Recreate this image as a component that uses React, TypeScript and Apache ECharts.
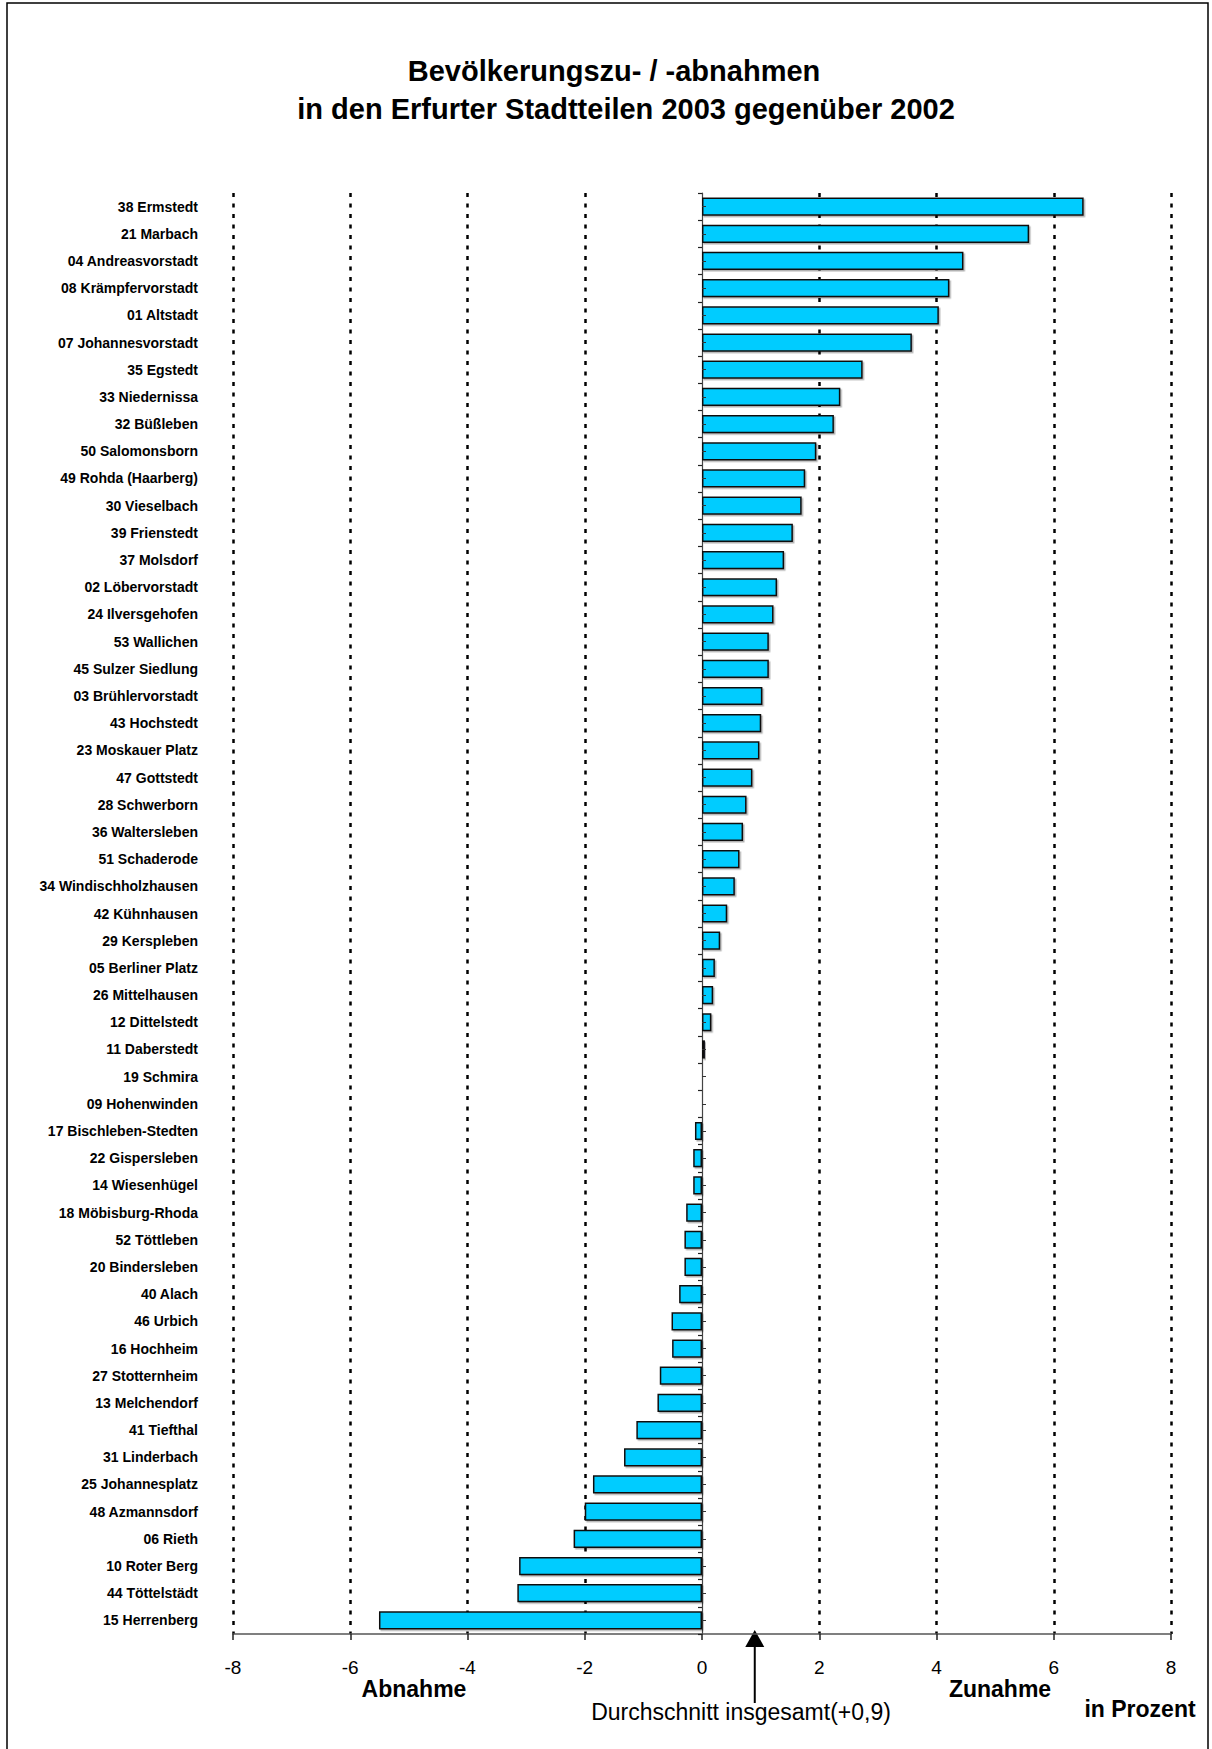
import React, { useEffect, useRef } from "react";
import * as echarts from "echarts";

const districts = [
  "38 Ermstedt", "21 Marbach", "04 Andreasvorstadt", "08 Krämpfervorstadt", "01 Altstadt",
  "07 Johannesvorstadt", "35 Egstedt", "33 Niedernissa", "32 Büßleben", "50 Salomonsborn",
  "49 Rohda (Haarberg)", "30 Vieselbach", "39 Frienstedt", "37 Molsdorf", "02 Löbervorstadt",
  "24 Ilversgehofen", "53 Wallichen", "45 Sulzer Siedlung", "03 Brühlervorstadt", "43 Hochstedt",
  "23 Moskauer Platz", "47 Gottstedt", "28 Schwerborn", "36 Waltersleben", "51 Schaderode",
  "34 Windischholzhausen", "42 Kühnhausen", "29 Kerspleben", "05 Berliner Platz", "26 Mittelhausen",
  "12 Dittelstedt", "11 Daberstedt", "19 Schmira", "09 Hohenwinden", "17 Bischleben-Stedten",
  "22 Gispersleben", "14 Wiesenhügel", "18 Möbisburg-Rhoda", "52 Töttleben", "20 Bindersleben",
  "40 Alach", "46 Urbich", "16 Hochheim", "27 Stotternheim", "13 Melchendorf",
  "41 Tiefthal", "31 Linderbach", "25 Johannesplatz", "48 Azmannsdorf", "06 Rieth",
  "10 Roter Berg", "44 Töttelstädt", "15 Herrenberg",
];

const changes = [
  6.51, 5.58, 4.46, 4.22, 4.04,
  3.58, 2.74, 2.36, 2.25, 1.95,
  1.76, 1.7, 1.55, 1.4, 1.28,
  1.22, 1.14, 1.14, 1.03, 1.01,
  0.98, 0.86, 0.76, 0.7, 0.64,
  0.56, 0.43, 0.31, 0.22, 0.19,
  0.16, 0.05, 0, 0, -0.12,
  -0.15, -0.15, -0.27, -0.3, -0.3,
  -0.39, -0.52, -0.51, -0.72, -0.76,
  -1.12, -1.33, -1.86, -2.0, -2.19,
  -3.12, -3.15, -5.51,
];

const xTicks = [-8, -6, -4, -2, 0, 2, 4, 6, 8];
const averageChange = 0.9;
const titleLines = [
  "Bevölkerungszu- / -abnahmen",
  "in den Erfurter Stadtteilen 2003 gegenüber 2002",
];
const sideLabels = ["Abnahme", "Zunahme", "in Prozent"];

const FONT = '"Liberation Sans", Arial, Helvetica, sans-serif';

export default function App() {
  const ref = useRef<HTMLDivElement>(null);

  useEffect(() => {
    const chart = echarts.init(ref.current as HTMLDivElement, null, { renderer: "svg" });
    const gridColors = xTicks.map((v) => (v === 0 ? "rgba(0,0,0,0)" : "#000"));

    chart.setOption({
      animation: false,
      backgroundColor: "#ffffff",
      grid: { left: 233, right: 41, top: 193, bottom: 115, containLabel: false },
      xAxis: {
        type: "value",
        min: xTicks[0],
        max: xTicks[xTicks.length - 1],
        interval: 2,
        axisLine: { show: true, onZero: false, lineStyle: { color: "#555", width: 1.5 } },
        axisTick: { show: true, length: 6, lineStyle: { color: "#222", width: 1.5 } },
        axisLabel: { color: "#000", fontSize: 19, fontFamily: FONT, margin: 24 },
        splitLine: {
          show: true,
          showMinLine: true,
          showMaxLine: true,
          lineStyle: { color: gridColors, width: 2.5, type: [4, 6.5] },
        },
      },
      yAxis: [
        {
          type: "category",
          data: districts,
          inverse: true,
          position: "left",
          axisLine: { show: false, onZero: false },
          axisTick: { show: false },
          splitLine: { show: false },
          axisLabel: {
            color: "#000",
            fontSize: 14,
            fontWeight: "bold",
            fontFamily: FONT,
            margin: 35,
            interval: 0,
          },
        },
        {
          type: "category",
          data: districts,
          inverse: true,
          position: "left",
          axisLine: { show: true, onZero: true, onZeroAxisIndex: 0, lineStyle: { color: "#444", width: 1.2 } },
          axisTick: { show: true, length: 4, interval: 0, lineStyle: { color: "#222", width: 1.2 } },
          axisLabel: { show: false },
          splitLine: { show: false },
        },
        {
          type: "category",
          data: districts,
          inverse: true,
          position: "left",
          z: 5,
          axisLine: { show: false, onZero: true, onZeroAxisIndex: 0 },
          axisTick: { show: true, inside: true, alignWithLabel: true, length: 4, interval: 0, lineStyle: { color: "#333", width: 1 } },
          axisLabel: { show: false },
          splitLine: { show: false },
        },
      ],
      series: [
        {
          type: "bar",
          data: changes,
          xAxisIndex: 0,
          yAxisIndex: 0,
          barWidth: "67%",
          itemStyle: {
            color: "#00CCFF",
            borderColor: "#111",
            borderWidth: 1.5,
            shadowColor: "rgba(0,0,0,0.3)",
            shadowOffsetX: 1.5,
            shadowOffsetY: 1.5,
            shadowBlur: 1,
          },
        },
      ],
    });

    let axisY = 1634;
    try {
      const rect = (chart as any).getModel().getComponent("grid", 0).coordinateSystem.getRect();
      axisY = rect.y + rect.height;
    } catch (e) {
      axisY = 1634;
    }
    const ax = chart.convertToPixel({ xAxisIndex: 0 }, averageChange) as number;
    const avgText = `Durchschnitt insgesamt(+${averageChange.toFixed(1).replace(".", ",")})`;

    chart.setOption({
      graphic: [
        {
          type: "rect",
          z: 0,
          silent: true,
          shape: { x: 7, y: 3, width: 1201, height: 1800 },
          style: { fill: "none", stroke: "#000", lineWidth: 1.5 },
        },
        {
          type: "text",
          x: 614,
          y: 71,
          style: { text: titleLines[0], font: `bold 29px ${FONT}`, fill: "#000", align: "center", verticalAlign: "middle" },
        },
        {
          type: "text",
          x: 626,
          y: 109,
          style: { text: titleLines[1], font: `bold 29px ${FONT}`, fill: "#000", align: "center", verticalAlign: "middle" },
        },
        {
          type: "polygon",
          shape: { points: [[ax, axisY - 4], [ax - 9.5, axisY + 13], [ax + 9.5, axisY + 13]] },
          style: { fill: "#000" },
        },
        {
          type: "line",
          shape: { x1: ax, y1: axisY + 12, x2: ax, y2: axisY + 69 },
          style: { stroke: "#000", lineWidth: 2 },
        },
        {
          type: "text",
          x: 741,
          y: 1712,
          style: { text: avgText, font: `23px ${FONT}`, fill: "#000", align: "center", verticalAlign: "middle" },
        },
        {
          type: "text",
          x: 414,
          y: 1689,
          style: { text: sideLabels[0], font: `bold 23px ${FONT}`, fill: "#000", align: "center", verticalAlign: "middle" },
        },
        {
          type: "text",
          x: 1000,
          y: 1689,
          style: { text: sideLabels[1], font: `bold 23px ${FONT}`, fill: "#000", align: "center", verticalAlign: "middle" },
        },
        {
          type: "text",
          x: 1140,
          y: 1709,
          style: { text: sideLabels[2], font: `bold 23px ${FONT}`, fill: "#000", align: "center", verticalAlign: "middle" },
        },
      ],
    });

    return () => {
      chart.dispose();
    };
  }, []);

  return (
    <div
      ref={ref}
      style={{ position: "absolute", left: 0, top: 0, width: 1212, height: 1749, background: "#fff" }}
    />
  );
}
